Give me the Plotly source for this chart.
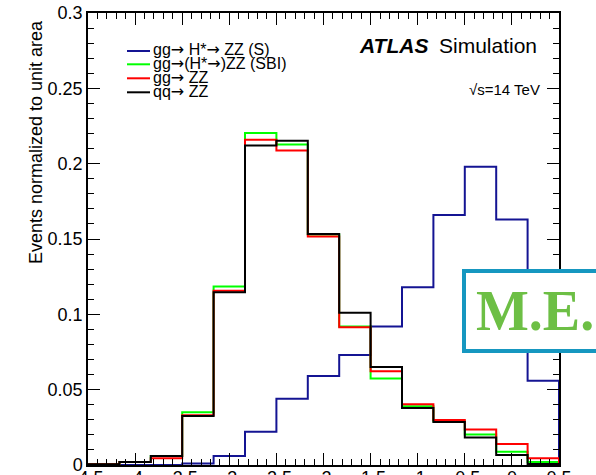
import numpy as np
import plotly.graph_objects as go

# Histogram binning: 15 bins of width 1/3 between -4.5 and 0.5
x_min, x_max, n_bins = -4.5, 0.5, 15
edges = np.linspace(x_min, x_max, n_bins + 1)

# Normalised bin contents
gg_h_zz_s = [0.0, 0.0, 0.0, 0.001, 0.006, 0.022, 0.044, 0.059, 0.073, 0.092,
             0.118, 0.166, 0.198, 0.163, 0.056]
gg_zz_sbi = [0.0005, 0.002, 0.006, 0.035, 0.1185, 0.2203, 0.2128, 0.153, 0.092, 0.0574,
             0.039, 0.029, 0.0203, 0.0088, 0.002]
gg_zz = [0.0005, 0.002, 0.0045, 0.033, 0.1157, 0.2159, 0.2088, 0.1517, 0.0914, 0.0622,
         0.0404, 0.0298, 0.0236, 0.0139, 0.0044]
qq_zz = [0.0005, 0.002, 0.006, 0.0325, 0.1146, 0.2121, 0.2152, 0.1534, 0.101, 0.065,
         0.0379, 0.0285, 0.0183, 0.0066, 0.0007]

series_names = ["gg→ H*→ ZZ (S)", "gg→(H*→)ZZ (SBI)", "gg→ ZZ", "qq→ ZZ"]
series_values = [gg_h_zz_s, gg_zz_sbi, gg_zz, qq_zz]
series_colors = ["#141493", "#00ff00", "#ff0000", "#000000"]

x_tick_vals = [-4.5, -4, -3.5, -3, -2.5, -2, -1.5, -1, -0.5, 0, 0.5]
x_tick_text = ["-4.5", "-4", "-3.5", "-3", "-2.5", "-2", "-1.5", "-1", "-0.5", "0", "0.5"]
y_tick_vals = [0, 0.05, 0.1, 0.15, 0.2, 0.25, 0.3]
y_tick_text = ["0", "0.05", "0.1", "0.15", "0.2", "0.25", "0.3"]

W, H = 596, 475
ML, MR, MT, MB = 88, 37, 13, 10
PW, PH = W - ML - MR, H - MT - MB


def px(xp, yp):
    """Pixel position on the page -> paper coordinates."""
    return (xp - ML) / PW, (H - MB - yp) / PH


FONT = "Liberation Sans, Arial, Helvetica, sans-serif"
ARROW = '<span style="font-family:DejaVu Sans">→</span>'


def label(s):
    return s.replace("→", ARROW)


fig = go.Figure()

# Step outlines, closed down to zero at both ends
for name, vals, col in zip(series_names, series_values, series_colors):
    xs = [edges[0]] + list(edges[:-1]) + [edges[-1]]
    ys = [0.0] + list(vals) + [0.0]
    fig.add_trace(go.Scatter(x=xs, y=ys, mode="lines", name=name,
                             line=dict(color=col, width=2, shape="hv"),
                             showlegend=False, hoverinfo="skip"))

axis_common = dict(showline=True, linecolor="black", linewidth=1.5,
                   mirror="allticks", ticks="inside", ticklen=12, tickwidth=1,
                   tickcolor="black", showgrid=False, zeroline=False,
                   automargin=False, ticklabeloverflow="allow",
                   tickfont=dict(family=FONT, size=18, color="black"))

fig.update_xaxes(range=[x_min, x_max], tickvals=x_tick_vals, ticktext=x_tick_text,
                 ticklabelstandoff=-4,
                 minor=dict(ticks="inside", ticklen=6, dtick=0.1, tick0=x_min,
                            tickcolor="black", tickwidth=1, showgrid=False),
                 **axis_common)
fig.update_yaxes(range=[0, 0.3], tickvals=y_tick_vals, ticktext=y_tick_text,
                 minor=dict(ticks="inside", ticklen=6, dtick=0.01, tick0=0,
                            tickcolor="black", tickwidth=1, showgrid=False),
                 **axis_common)

annotations = []
shapes = []

# Y-axis title, aligned to the top of the axis
tx, ty = px(36, 18)
annotations.append(dict(x=tx, y=ty, xref="paper", yref="paper", showarrow=False,
                        text="Events normalized to unit area", textangle=-90,
                        xanchor="center", yanchor="top",
                        font=dict(family=FONT, size=18, color="black")))

# Legend entries
rows_y = [51, 64.3, 78.3, 92.3]
for name, col, yy in zip(series_names, series_colors, rows_y):
    x0, y0 = px(127, yy)
    x1, _ = px(150, yy)
    shapes.append(dict(type="line", xref="paper", yref="paper", x0=x0, x1=x1,
                       y0=y0, y1=y0, line=dict(color=col, width=2)))
    lx, ly = px(151, yy - 1)
    annotations.append(dict(x=lx, y=ly, xref="paper", yref="paper", showarrow=False,
                            text=label(name), xanchor="left", yanchor="middle",
                            font=dict(family=FONT, size=16, color="black")))

# ATLAS label
ax_, ay_ = px(357, 45.5)
annotations.append(dict(x=ax_, y=ay_, xref="paper", yref="paper", showarrow=False,
                        text="<b><i>ATLAS</i></b>", xanchor="left", yanchor="middle",
                        font=dict(family=FONT, size=21, color="black")))
sx_, sy_ = px(437, 45.5)
annotations.append(dict(x=sx_, y=sy_, xref="paper", yref="paper", showarrow=False,
                        text="Simulation", xanchor="left", yanchor="middle",
                        font=dict(family=FONT, size=21, color="black")))
ex_, ey_ = px(542, 89)
annotations.append(dict(x=ex_, y=ey_, xref="paper", yref="paper", showarrow=False,
                        text="√s=14 TeV", xanchor="right", yanchor="middle",
                        font=dict(family=FONT, size=15, color="black")))

# Boxed "M.E." label
bx0, by0 = px(464, 351)
bx1, by1 = px(660, 271)
shapes.append(dict(type="rect", xref="paper", yref="paper", x0=bx0, x1=bx1,
                   y0=by0, y1=by1, fillcolor="white", layer="above",
                   line=dict(color="#1697c0", width=4)))
mx_, my_ = px(474, 311)
annotations.append(dict(x=mx_, y=my_, xref="paper", yref="paper", showarrow=False,
                        text="<b>M.E.</b>", xanchor="left", yanchor="middle",
                        font=dict(family="Liberation Serif, Times New Roman, serif",
                                  size=56, color="#6dbf45")))

fig.update_layout(width=W, height=H,
                  margin=dict(l=ML, r=MR, t=MT, b=MB, pad=0),
                  paper_bgcolor="white", plot_bgcolor="white",
                  annotations=annotations, shapes=shapes, showlegend=False)

fig.write_html("out.html")
